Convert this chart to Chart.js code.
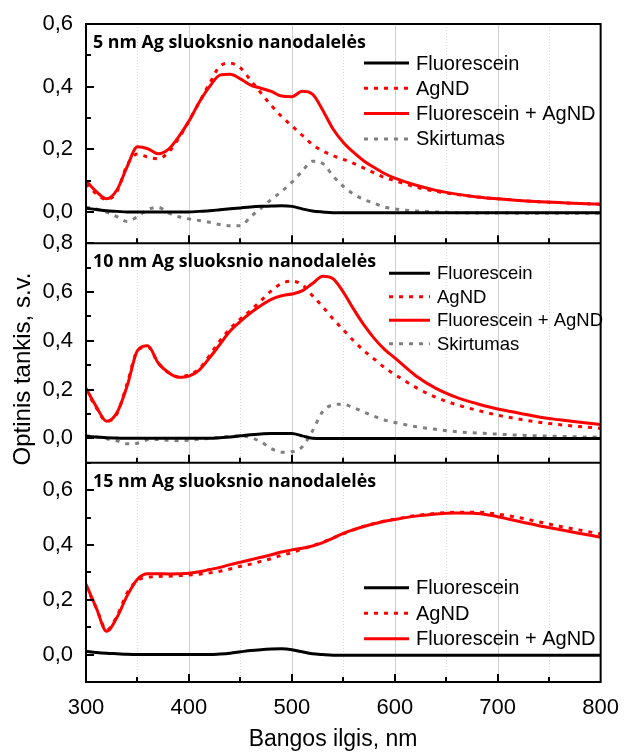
<!DOCTYPE html>
<html>
<head>
<meta charset="utf-8">
<script src="https://cdn.jsdelivr.net/npm/chart.js@4"></script>
<style>
  html, body { margin: 0; padding: 0; background: #fff; }
  #wrap { width: 624px; height: 753px; }
</style>
</head>
<body>
<div id="wrap"><canvas id="absChart" width="624" height="753"></canvas></div>
<script>
// wavelengths, nm
const wl = [300, 310, 320, 330, 340, 350, 360, 370, 380, 390, 400, 410, 420, 430, 440, 450, 460, 470, 480, 490,
            500, 510, 520, 530, 540, 550, 560, 570, 580, 590, 600, 620, 640, 660, 680, 700, 720, 740, 760, 780, 800];

// 5 nm layer
const fluor5 = [0.012, 0.008, 0.004, 0.002, 0.0, 0.0, 0.0, 0.0, 0.0, 0.0, 0.0, 0.002, 0.004, 0.007, 0.01, 0.013, 0.016, 0.018, 0.019, 0.02,
                0.018, 0.01, 0.003, 0.0, -0.002, -0.002, -0.002, -0.002, -0.002, -0.002, -0.002, -0.002, -0.002, -0.002, -0.002, -0.002, -0.002, -0.002, -0.002, -0.002, -0.002];
const agnd5 = [0.09, 0.058, 0.04, 0.065, 0.15, 0.185, 0.175, 0.17, 0.19, 0.235, 0.29, 0.35, 0.41, 0.465, 0.475, 0.46, 0.42, 0.38, 0.34, 0.305,
               0.275, 0.245, 0.215, 0.195, 0.18, 0.168, 0.155, 0.14, 0.125, 0.11, 0.1, 0.08, 0.066, 0.056, 0.048, 0.042, 0.037, 0.033, 0.03, 0.027, 0.025];
const mix5 = [0.1, 0.065, 0.042, 0.07, 0.145, 0.208, 0.202, 0.186, 0.2, 0.24, 0.29, 0.35, 0.4, 0.437, 0.44, 0.425, 0.405, 0.395, 0.385, 0.37,
              0.368, 0.385, 0.376, 0.325, 0.265, 0.222, 0.19, 0.163, 0.142, 0.123, 0.108, 0.086, 0.069, 0.057, 0.048, 0.042, 0.037, 0.033, 0.03, 0.027, 0.025];
const diff5 = [0.015, 0.01, 0.0, -0.015, -0.03, -0.015, 0.008, 0.015, -0.003, -0.015, -0.022, -0.027, -0.033, -0.04, -0.044, -0.044, -0.015, 0.012, 0.04, 0.065,
               0.095, 0.13, 0.162, 0.155, 0.115, 0.082, 0.057, 0.04, 0.028, 0.016, 0.01, 0.003, 0.0, -0.002, -0.003, -0.003, -0.004, -0.004, -0.004, -0.004, -0.004];

// 10 nm layer
const fluor10 = [0.008, 0.005, 0.002, 0.001, 0.0, 0.0, 0.0, 0.0, 0.0, 0.0, 0.0, 0.0, 0.0, 0.002, 0.005, 0.01, 0.015, 0.018, 0.02, 0.02,
                 0.02, 0.01, 0.0, -0.001, -0.001, -0.001, -0.001, -0.001, -0.001, -0.001, -0.001, -0.001, -0.001, -0.001, -0.001, -0.001, -0.001, -0.001, -0.001, -0.001, -0.001];
const agnd10 = [0.2, 0.125, 0.07, 0.1, 0.225, 0.36, 0.375, 0.31, 0.27, 0.252, 0.26, 0.285, 0.34, 0.4, 0.45, 0.49, 0.525, 0.565, 0.605, 0.635,
                0.645, 0.63, 0.585, 0.54, 0.49, 0.445, 0.4, 0.36, 0.325, 0.29, 0.262, 0.21, 0.168, 0.138, 0.115, 0.095, 0.079, 0.066, 0.056, 0.048, 0.041];
const mix10 = [0.205, 0.13, 0.07, 0.105, 0.215, 0.36, 0.38, 0.31, 0.27, 0.25, 0.255, 0.28, 0.33, 0.385, 0.44, 0.48, 0.515, 0.545, 0.57, 0.585,
               0.592, 0.605, 0.635, 0.665, 0.655, 0.6, 0.53, 0.465, 0.41, 0.365, 0.33, 0.258, 0.205, 0.168, 0.142, 0.12, 0.104, 0.087, 0.076, 0.066, 0.057];
const diff10 = [0.01, 0.005, -0.002, -0.01, -0.022, -0.02, -0.006, -0.005, -0.008, -0.01, -0.008, -0.004, 0.0, 0.004, 0.008, 0.01, 0.003, -0.015, -0.042, -0.057,
                -0.055, -0.035, 0.03, 0.11, 0.137, 0.14, 0.125, 0.108, 0.09, 0.075, 0.065, 0.048, 0.037, 0.027, 0.022, 0.017, 0.013, 0.01, 0.008, 0.006, 0.005];

// 15 nm layer
const fluor15 = [0.012, 0.008, 0.005, 0.003, 0.001, 0.0, 0.0, 0.0, 0.0, 0.0, 0.0, 0.0, 0.0, 0.002, 0.005, 0.01, 0.015, 0.018, 0.02, 0.021,
                 0.018, 0.01, 0.003, 0.0, -0.002, -0.002, -0.002, -0.002, -0.002, -0.002, -0.002, -0.002, -0.002, -0.002, -0.002, -0.002, -0.002, -0.002, -0.002, -0.002, -0.002];
const agnd15 = [0.25, 0.17, 0.09, 0.14, 0.225, 0.27, 0.282, 0.285, 0.286, 0.288, 0.29, 0.293, 0.298, 0.304, 0.312, 0.322, 0.33, 0.34, 0.35, 0.362,
                0.372, 0.385, 0.397, 0.41, 0.425, 0.44, 0.455, 0.468, 0.478, 0.487, 0.494, 0.507, 0.515, 0.519, 0.519, 0.512, 0.5, 0.484, 0.468, 0.454, 0.44];
const mix15 = [0.257, 0.17, 0.085, 0.135, 0.215, 0.275, 0.295, 0.295, 0.294, 0.295, 0.297, 0.302, 0.31, 0.318, 0.328, 0.337, 0.346, 0.355, 0.364, 0.374,
               0.382, 0.388, 0.396, 0.408, 0.425, 0.442, 0.456, 0.467, 0.477, 0.486, 0.493, 0.505, 0.513, 0.516, 0.515, 0.503, 0.486, 0.47, 0.456, 0.442, 0.428];

const xTicks = [300, 400, 500, 600, 700, 800];
const panelTitles = ['5 nm Ag sluoksnio nanodalelės', '10 nm Ag sluoksnio nanodalelės', '15 nm Ag sluoksnio nanodalelės'];
const yTicks1 = [0.0, 0.2, 0.4, 0.6];
const yTicks2 = [0.0, 0.2, 0.4, 0.6, 0.8];
const yTicks3 = [0.0, 0.2, 0.4, 0.6];

const styles = {
  fluor: { label: 'Fluorescein', borderColor: '#000000', borderWidth: 3, borderDash: [], order: 3 },
  agnd:  { label: 'AgND', borderColor: '#ff0000', borderWidth: 3, borderDash: [4, 6], order: 2 },
  mix:   { label: 'Fluorescein + AgND', borderColor: '#ff0000', borderWidth: 3, borderDash: [], order: 1 },
  diff:  { label: 'Skirtumas', borderColor: '#808080', borderWidth: 3, borderDash: [4, 6], order: 4 }
};

function series(kind, values, axis) {
  return Object.assign({}, styles[kind], {
    data: wl.map((x, i) => ({ x: x, y: values[i] })),
    yAxisID: axis,
    pointRadius: 0,
    fill: false,
    cubicInterpolationMode: 'monotone'
  });
}

const datasets = [
  series('fluor', fluor5, 'y1'), series('agnd', agnd5, 'y1'), series('mix', mix5, 'y1'), series('diff', diff5, 'y1'),
  series('fluor', fluor10, 'y2'), series('agnd', agnd10, 'y2'), series('mix', mix10, 'y2'), series('diff', diff10, 'y2'),
  series('fluor', fluor15, 'y3'), series('agnd', agnd15, 'y3'), series('mix', mix15, 'y3')
];

// legend boxes: which datasets, where the sample line starts/ends, first row offset, row step, text size
const legends = [
  { axis: 'y1', items: [0, 1, 2, 3], x0: 364, x1: 409, dy: 39, step: 25.3, size: 20 },
  { axis: 'y2', items: [4, 5, 6, 7], x0: 389, x1: 430, dy: 30, step: 23.5, size: 18.5 },
  { axis: 'y3', items: [8, 9, 10], x0: 364, x1: 409, dy: 125, step: 25.5, size: 20 }
];

const fmt = v => v.toFixed(1).replace('.', ',');
const font = '"Liberation Sans", Arial, sans-serif';

const panelPlugin = {
  id: 'panels',
  beforeDatasetsDraw(chart) {
    const { ctx, chartArea: a, scales } = chart;
    ctx.save();
    ctx.lineWidth = 1;
    for (let v = 350; v < 800; v += 50) {
      const px = Math.round(scales.x.getPixelForValue(v)) + 0.5;
      const major = v % 100 === 0;
      ctx.strokeStyle = major ? '#cfcfcf' : '#d6d6d6';
      ctx.setLineDash(major ? [] : [1, 2]);
      ctx.beginPath();
      ctx.moveTo(px, a.top);
      ctx.lineTo(px, a.bottom);
      ctx.stroke();
    }
    ctx.restore();
  },
  afterDatasetsDraw(chart) {
    const { ctx, chartArea: a, scales } = chart;
    ctx.save();
    ctx.strokeStyle = '#000';
    ctx.lineWidth = 2;
    ctx.setLineDash([]);
    ctx.strokeRect(a.left, a.top, a.right - a.left, a.bottom - a.top);

    ['y1', 'y2', 'y3'].forEach((id, p) => {
      const s = scales[id];
      // panel separator
      ctx.lineWidth = 2;
      ctx.beginPath();
      ctx.moveTo(a.left, s.bottom);
      ctx.lineTo(a.right, s.bottom);
      ctx.stroke();
      // inward ticks on x
      for (let v = 350; v < 800; v += 50) {
        const px = Math.round(scales.x.getPixelForValue(v));
        const len = v % 100 === 0 ? 8 : 5;
        ctx.beginPath();
        ctx.moveTo(px, s.bottom);
        ctx.lineTo(px, s.bottom - len);
        ctx.stroke();
      }
      // inward ticks on y
      for (let v = 0; v <= s.max + 1e-6; v += 0.1) {
        const py = Math.round(s.getPixelForValue(v));
        const len = Math.round(v * 10) % 2 === 0 ? 8 : 5;
        ctx.beginPath();
        ctx.moveTo(a.left, py);
        ctx.lineTo(a.left + len, py);
        ctx.stroke();
      }
      // panel title
      ctx.fillStyle = '#000';
      ctx.font = 'bold 17.8px "Open Sans", sans-serif';
      ctx.textAlign = 'left';
      ctx.textBaseline = 'middle';
      ctx.fillText(panelTitles[p], a.left + 7, s.top + 19);
    });

    // legends
    legends.forEach(lg => {
      const s = scales[lg.axis];
      lg.items.forEach((di, r) => {
        const ds = chart.data.datasets[di];
        const y = s.top + lg.dy + r * lg.step;
        ctx.strokeStyle = ds.borderColor;
        ctx.lineWidth = ds.borderWidth;
        ctx.setLineDash(ds.borderDash);
        ctx.beginPath();
        ctx.moveTo(lg.x0, y);
        ctx.lineTo(lg.x1, y);
        ctx.stroke();
        ctx.setLineDash([]);
        ctx.fillStyle = '#000';
        ctx.font = lg.size + 'px ' + font;
        ctx.textAlign = 'left';
        ctx.textBaseline = 'middle';
        ctx.fillText(ds.label, lg.x1 + 7, y + 1);
      });
    });

    // axis titles
    ctx.fillStyle = '#000';
    ctx.font = '23px ' + font;
    ctx.textAlign = 'center';
    ctx.textBaseline = 'middle';
    ctx.fillText('Bangos ilgis, nm', 333, 740);
    ctx.save();
    ctx.translate(23, 369);
    ctx.rotate(-Math.PI / 2);
    ctx.font = '24px ' + font;
    ctx.fillText('Optinis tankis, s.v.', 0, 0);
    ctx.restore();
    ctx.restore();
  }
};

function yAxis(min, max, ticks, weight) {
  return {
    type: 'linear', position: 'left', stack: 'panels', stackWeight: 1, weight: weight,
    min: min, max: max,
    grid: { display: false }, border: { display: false },
    afterBuildTicks: s => { s.ticks = ticks.map(v => ({ value: v })); },
    afterFit: s => { s.width = 86; },
    ticks: { autoSkip: false, padding: 5, color: '#000', font: { family: font, size: 22 }, callback: v => fmt(v) }
  };
}

new Chart(document.getElementById('absChart'), {
  type: 'line',
  data: { datasets: datasets },
  options: {
    responsive: false,
    animation: false,
    layout: { padding: { top: 24, right: 22, left: 0, bottom: 0 } },
    plugins: { legend: { display: false }, tooltip: { enabled: false } },
    scales: {
      x: {
        type: 'linear', position: 'bottom', min: 300, max: 800,
        grid: { display: false }, border: { display: false },
        afterBuildTicks: s => { s.ticks = xTicks.map(v => ({ value: v })); },
        afterFit: s => { s.height = 71; },
        ticks: { autoSkip: false, maxRotation: 0, padding: 5, color: '#000', font: { family: font, size: 22 }, callback: v => String(v) }
      },
      y1: yAxis(-0.1, 0.6, yTicks1, 3),
      y2: yAxis(-0.1, 0.8, yTicks2, 2),
      y3: yAxis(-0.1, 0.7, yTicks3, 1)
    }
  },
  plugins: [panelPlugin]
});
</script>
</body>
</html>
